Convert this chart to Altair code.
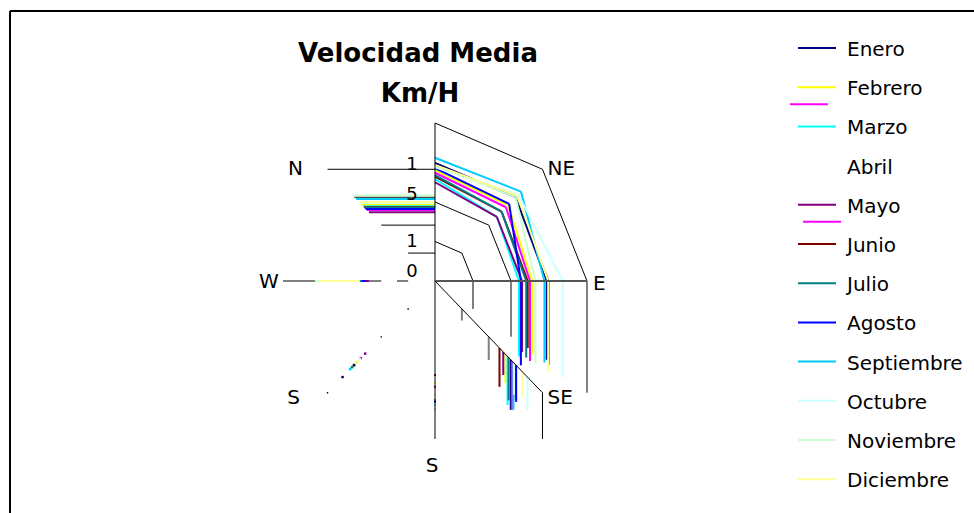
import math
import altair as alt
import pandas as pd

# ---------------------------------------------------------------- data
months = ["Enero", "Febrero", "Marzo", "Abril", "Mayo", "Junio", "Julio",
          "Agosto", "Septiembre", "Octubre", "Noviembre", "Diciembre"]
directions = ["N", "NE", "E", "SE", "S", "SW", "W", "NW"]
direction_text = ["", "NE", "E", "SE", "S", "S", "W", "N"]

# mean wind speed (km/h) per direction, one value per month
vel_N = [14.9, 14.05, 12.9, 13.7, 12.5, 13.2, 13.4, 14.3, 15.6, 14.4, 14.6, 14.7]
vel_NE = [15.0, 13.6, 11.5, 13.2, 11.5, 12.4, 12.4, 13.8, 16.0, 15.5, 15.0, 15.3]
vel_E = [14.7, 12.8, 11.05, 12.5, 11.45, 12.2, 12.0, 11.3, 14.4, 16.8, 13.2, 14.9]
vel_SE = [14.1, 13.1, 13.5, 14.3, 12.7, 12.0, 13.7, 15.1, 14.6, 17.2, 14.7, 16.3]
vel_S = [16.3, 12.9, 15.7, 16.3, 11.9, 13.4, 15.1, 15.3, 16.3, 16.3, 14.4, 14.7]
vel_SW = [17.2, 14.6, 15.6, 13.8, 13.0, 15.1, 15.4, 15.0, 15.8, 14.0, 14.8, 14.3]
vel_W = [14.0, 15.0, 13.5, 13.0, 12.5, 13.8, 13.2, 9.6, 14.5, 14.8, 15.8, 15.2]
vel_NW = [13.6, 13.6, 13.4, 12.7, 12.3, 13.2, 13.1, 12.9, 14.7, 14.0, 15.3, 14.1]

series_colors = ["#000080", "#FFFF00", "#00FFFF", "#FF00FF", "#800080", "#800000",
                 "#008080", "#0000FF", "#00CCFF", "#CCFFFF", "#CCFFCC", "#FFFF99"]
legend_colors = ["#000080", "#FFFF00", "#00FFFF", None, "#800080", "#800000",
                 "#008080", "#0000FF", "#00CCFF", "#CCFFFF", "#CCFFCC", "#FFFF99"]

ring_values = [5, 10, 15, 20]
tick_values = [0, 5, 10, 15]
tick_text = ["0", "1", "5", "1"]

# ---------------------------------------------------------------- geometry
W_PX, H_PX = 974, 513
CX, CY = 435, 281          # centre of the radar in the canvas
KX, KY = 7.6, 7.9          # pixels per km/h horizontally / vertically


def ux(px):
    return (px - CX) / KX


def uy(py):
    return (CY - py) / KY


def polar(v, k):
    a = math.radians(45 * k)
    return v * math.sin(a), v * math.cos(a)


def outline(vals):
    """Segments of the radar outline as the chart engine drew them."""
    p = [polar(v, k) for k, v in enumerate(vals)]
    return [
        ("diag", p[0], p[1]),
        ("diag", p[1], p[2]),
        ("dropE", (p[2][0], 0), (p[2][0], p[3][1])),
        ("dropSE", p[3], (p[3][0], p[4][1])),
        ("west", (p[6][0], 0), (p[7][0], 0)),
        ("nw", p[7], (0, p[7][1])),
    ]


grid_style = {"diag": ("#000000", 1), "dropE": ("#808080", 2), "dropSE": ("#808080", 2),
              "west": ("#808080", 2), "nw": ("#000000", 1)}

grid_rows = []
for r in ring_values:
    for kind, a, b in outline([r] * 8):
        c, w = grid_style[kind]
        if r == ring_values[-1] and kind == "dropSE":
            c, w = "#000000", 1
        grid_rows.append(dict(x=a[0], y=a[1], x2=b[0], y2=b[1], c=c, w=w))

# spokes that the chart shows: N, E, SE, S
spoke_rows = []
for k, c, w in [(0, "#000000", 1), (2, "#555555", 2), (3, "#000000", 1), (4, "#000000", 1)]:
    ex, ey = polar(20, k)
    spoke_rows.append(dict(x=0, y=0, x2=ex, y2=ey, c=c, w=w))

series_rows, s_dots, sw_dots = [], [], []
for i, m in enumerate(months):
    vals = [vel_N[i], vel_NE[i], vel_E[i], vel_SE[i], vel_S[i], vel_SW[i], vel_W[i], vel_NW[i]]
    for kind, a, b in outline(vals):
        series_rows.append(dict(x=a[0], y=a[1], x2=b[0], y2=b[1], c=series_colors[i], w=2, mes=m))
    sx, sy = polar(vel_S[i], 4)
    s_dots.append(dict(x=sx, y=sy, c=series_colors[i]))
    wx, wy = polar(vel_SW[i], 5)
    sw_dots.append(dict(x=wx, y=wy, c=series_colors[i]))

ring_dots = [dict(x=polar(r, 5)[0], y=polar(r, 5)[1]) for r in ring_values]

# direction labels around the outer ring (pixel offsets of each label)
label_offsets = {"NE": (5, 6, "left"), "E": (6, 9, "left"), "SE": (5, 11, "left"),
                 "S": (-3, 33, "center"), "SW": (-34, 11, "center"),
                 "W": (-14, 7, "center"), "NW": (-32, 6, "center")}
label_rows = []
for k, d in enumerate(directions):
    if d not in label_offsets:
        continue
    px_, py_ = polar(20, k)
    dx, dy, al = label_offsets[d]
    label_rows.append(dict(x=px_ + dx / KX, y=py_ - dy / KY, t=direction_text[k], al=al))

tick_dy = [-9, 0, -7, 2]
tick_rows = [dict(x=ux(CX - 23), y=v - tick_dy[j] / KY, t=tick_text[j])
             for j, v in enumerate(tick_values)]

# legend laid out down the right-hand side
LEG_STEP = 39.2
leg_text, leg_lines = [], []
for i, m in enumerate(months):
    base = 56 + i * LEG_STEP
    leg_text.append(dict(x=ux(847), y=uy(base), t=m))
    if legend_colors[i]:
        leg_lines.append(dict(x=ux(798), x2=ux(836), y=uy(base - 8), y2=uy(base - 8),
                              c=legend_colors[i]))
# stray legend strokes
for row, shift in [(1, -8), (4, 5)]:
    base = 56 + row * LEG_STEP
    leg_lines.append(dict(x=ux(798 + shift), x2=ux(836 + shift), y=uy(base + 9),
                          y2=uy(base + 9), c="#FF00FF"))

# ---------------------------------------------------------------- chart
xs = alt.Scale(domain=[ux(0), ux(W_PX)], nice=False, zero=False)
ys = alt.Scale(domain=[uy(H_PX), uy(0)], nice=False, zero=False)
X = lambda f="x": alt.X(f"{f}:Q", scale=xs, axis=None)
Y = lambda f="y": alt.Y(f"{f}:Q", scale=ys, axis=None)


def segs(rows):
    return alt.Chart(pd.DataFrame(rows)).mark_rule().encode(
        x=X(), y=Y(), x2="x2:Q", y2="y2:Q",
        color=alt.Color("c:N", scale=None),
        strokeWidth=alt.StrokeWidth("w:Q", scale=None),
    )


grid = segs(grid_rows)
series = segs(series_rows)
spokes = segs(spoke_rows)

s_pts = alt.Chart(pd.DataFrame(s_dots)).mark_square(size=4, opacity=1).encode(
    x=X(), y=Y(), color=alt.Color("c:N", scale=None))
sw_pts = alt.Chart(pd.DataFrame(sw_dots)).mark_square(size=6, opacity=1).encode(
    x=X(), y=Y(), color=alt.Color("c:N", scale=None))
ring_pts = alt.Chart(pd.DataFrame(ring_dots)).mark_square(size=2, opacity=1, color="#000000").encode(
    x=X(), y=Y())

dir_labels = []
for al in ["left", "center"]:
    rows = [r for r in label_rows if r["al"] == al]
    dir_labels.append(alt.Chart(pd.DataFrame(rows)).mark_text(
        font="DejaVu Sans", fontSize=20, align=al, baseline="alphabetic", color="#000000"
    ).encode(x=X(), y=Y(), text="t:N"))

ticks = alt.Chart(pd.DataFrame(tick_rows)).mark_text(
    font="DejaVu Sans", fontSize=18, align="center", baseline="middle", color="#000000"
).encode(x=X(), y=Y(), text="t:N")

title = alt.Chart(pd.DataFrame({"t": ["Velocidad Media", "Km/H"], "x": [ux(418), ux(420)],
                                "y": [uy(62), uy(102)]})).mark_text(
    font="DejaVu Sans", fontSize=26, fontWeight="bold", align="center", baseline="alphabetic",
    color="#000000"
).encode(x=X(), y=Y(), text="t:N")

legend_lines = alt.Chart(pd.DataFrame(leg_lines)).mark_rule(strokeWidth=2).encode(
    x=X(), y=Y(), x2="x2:Q", y2="y2:Q", color=alt.Color("c:N", scale=None))
legend_text = alt.Chart(pd.DataFrame(leg_text)).mark_text(
    font="DejaVu Sans", fontSize=20, align="left", baseline="alphabetic", color="#000000"
).encode(x=X(), y=Y(), text="t:N")

# chart frame: top and left edges
frame_top = alt.Chart(pd.DataFrame({"k": [0]})).mark_rule(color="#000000", strokeWidth=2).encode(
    x=alt.value(10), x2=alt.value(W_PX + 5), y=alt.value(11), y2=alt.value(11))
frame_left = alt.Chart(pd.DataFrame({"k": [0]})).mark_rule(color="#000000", strokeWidth=2).encode(
    x=alt.value(10), x2=alt.value(10), y=alt.value(11), y2=alt.value(H_PX + 5))

chart = alt.layer(
    grid, series, s_pts, sw_pts, ring_pts, spokes, *dir_labels, ticks, title,
    legend_lines, legend_text, frame_top, frame_left
).properties(
    width=W_PX, height=H_PX, padding=0, autosize="none", background="#FFFFFF"
).configure_view(stroke=None)

chart.save("out.html", embed_options={"renderer": "svg", "actions": False})
